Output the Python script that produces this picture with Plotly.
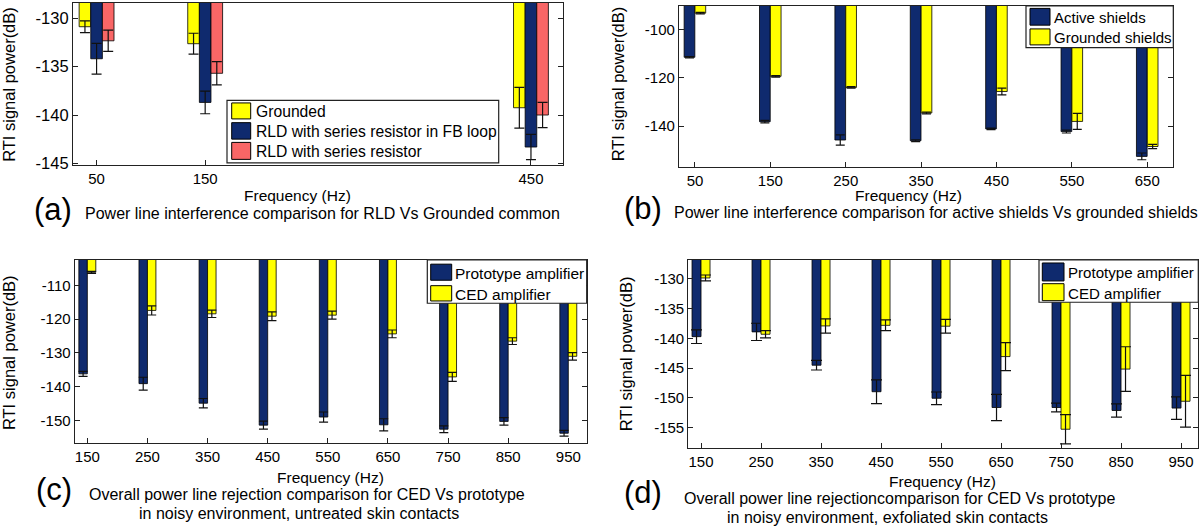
import plotly.graph_objects as go

# ---------------- data ----------------
freq_a = [50, 150, 450]
grounded_a = [-130.9, -132.65, -139.25]
grounded_a_err = [0.6, 1.08, 2.1]
rld_fb_a = [-134.2, -138.7, -143.3]
rld_fb_a_err = [1.58, 1.17, 1.3]
rld_a = [-132.35, -135.7, -140.0]
rld_a_err = [1.1, 1.2, 1.3]

freq_b = [50, 150, 250, 350, 450, 550, 650]
active_b = [-111.5, -138.2, -145.8, -146.1, -141.2, -142.3, -152.6]
active_b_err = [0.3, 0.5, 2.1, 0.4, 0.3, 0.6, 1.4]
grounded_b = [-93.2, -119.4, -124.0, -134.6, -125.7, -138.1, -148.5]
grounded_b_err = [0.3, 0.3, 0.3, 0.4, 1.4, 3.3, 0.9]

freq_cd = [150, 250, 350, 450, 550, 650, 750, 850, 950]
proto_c = [-136.2, -139.1, -144.9, -151.4, -149.0, -151.3, -152.6, -150.3, -153.8]
proto_c_err = [0.75, 1.9, 1.4, 1.2, 1.5, 1.8, 1.0, 1.1, 0.85]
ced_c = [-106.1, -117.4, -118.4, -119.1, -118.8, -124.35, -137.1, -126.5, -131.0]
ced_c_err = [0.3, 1.35, 1.1, 1.3, 1.2, 1.15, 1.35, 1.0, 1.1]

proto_d = [-139.7, -138.9, -144.5, -148.95, -150.05, -151.6, -151.6, -152.1, -151.7]
proto_d_err = [1.15, 1.45, 0.8, 2.0, 1.05, 2.2, 0.75, 1.1, 1.9]
ced_d = [-129.85, -139.3, -137.9, -137.8, -137.95, -143.05, -155.25, -145.15, -150.55]
ced_d_err = [0.5, 0.6, 1.2, 0.9, 1.15, 2.35, 2.45, 3.75, 4.35]

ytick_a = [-130, -135, -140, -145]
ytick_b = [-100, -120, -140]
ytick_c = [-110, -120, -130, -140, -150]
ytick_d = [-130, -135, -140, -145, -150, -155]

names_a = ["Grounded", "RLD with series resistor in FB loop", "RLD with series resistor"]
names_b = ["Active shields", "Grounded shields"]
names_cd = ["Prototype amplifier", "CED amplifier"]

y_title = "RTI signal power(dB)"
x_title = "Frequency (Hz)"
captions = {
    "a": ["Power line interference comparison for RLD Vs Grounded common"],
    "b": ["Power line interference comparison for active shields Vs grounded shields"],
    "c": ["Overall power line rejection comparison for CED Vs prototype",
          "in noisy environment, untreated skin contacts"],
    "d": ["Overall power line rejectioncomparison for CED Vs prototype",
          "in noisy environment, exfoliated skin contacts"],
}

# ---------------- style ----------------
W, H = 1200, 530
FONT = "Liberation Sans, Arial, Helvetica, sans-serif"
YELLOW = "#FFFF00"
NAVY = "#0F2A6E"
SALMON = "#F96666"
AXC = "#222222"


def px(x):
    return x / W


def py(y):
    return 1 - y / H


fig = go.Figure()

panels = [
    dict(k="a", ax="", xd=(73, 563), yd=(3, 167), xr=[28.3, 479.5], yr=[-145.13, -128.45],
         xt=freq_a, yt=ytick_a, w=10.7, cap=5, yfs=16.5,
         series=[(names_a[0], YELLOW, grounded_a, grounded_a_err, -16.05),
                 (names_a[1], NAVY, rld_fb_a, rld_fb_a_err, -5.35),
                 (names_a[2], SALMON, rld_a, rld_a_err, 5.35)]),
    dict(k="b", ax="2", xd=(679, 1173.3), yd=(6, 169), xr=[28.8, 684.5], yr=[-156.9, -90.2],
         xt=freq_b, yt=ytick_b, w=14.2, cap=4.5, yfs=15,
         series=[(names_b[0], NAVY, active_b, active_b_err, -14.4),
                 (names_b[1], YELLOW, grounded_b, grounded_b_err, 0.0)]),
    dict(k="c", ax="3", xd=(74.7, 586.7), yd=(263.3, 449.3), xr=[129, 980.6], yr=[-156.8, -102.4],
         xt=freq_cd, yt=ytick_c, w=14.1, cap=4.5, yfs=15,
         series=[(names_cd[0], NAVY, proto_c, proto_c_err, -14.1),
                 (names_cd[1], YELLOW, ced_c, ced_c_err, 0.0)]),
    dict(k="d", ax="4", xd=(688.3, 1198.3), yd=(263.3, 454), xr=[128.8, 978.8], yr=[-158.4, -126.8],
         xt=freq_cd, yt=ytick_d, w=15.0, cap=5.5, yfs=15,
         series=[(names_cd[0], NAVY, proto_d, proto_d_err, -15.0),
                 (names_cd[1], YELLOW, ced_d, ced_d_err, 0.0)]),
]

layout = dict(
    width=W, height=H, autosize=False,
    margin=dict(l=0, r=0, t=0, b=0),
    paper_bgcolor="white", plot_bgcolor="white",
    barmode="overlay", showlegend=False,
    font=dict(family=FONT, size=15, color="black"),
)

for p in panels:
    xa = "x" + p["ax"]
    ya = "y" + p["ax"]
    for name, col, vals, err, off in p["series"]:
        fig.add_trace(go.Bar(
            x=p["xt"], y=vals, name=name, width=p["w"], offset=off,
            marker=dict(color=col, line=dict(color="black", width=0.8)),
            error_y=dict(type="data", array=err, visible=True, color="#111111",
                         thickness=1.2, width=p["cap"]),
            xaxis=xa, yaxis=ya, showlegend=False,
        ))
    layout["xaxis" + p["ax"]] = dict(
        domain=[px(p["xd"][0]), px(p["xd"][1])], range=p["xr"], anchor=ya,
        showgrid=False, zeroline=False, showline=True, mirror=True,
        linecolor=AXC, linewidth=1.2, ticks="inside", ticklen=5, tickcolor=AXC,
        tickmode="array", tickvals=p["xt"], ticktext=[str(v) for v in p["xt"]],
        tickfont=dict(size=15, family=FONT, color="black"),
    )
    layout["yaxis" + p["ax"]] = dict(
        domain=[py(p["yd"][1]), py(p["yd"][0])], range=p["yr"], anchor=xa,
        showgrid=False, zeroline=False, showline=True, mirror="ticks",
        linecolor=AXC, linewidth=1.2, ticks="inside", ticklen=5, tickcolor=AXC,
        tickmode="array", tickvals=p["yt"], ticktext=[str(v) for v in p["yt"]],
        tickfont=dict(size=p["yfs"], family=FONT, color="black"),
    )

fig.update_layout(**layout)

shapes = []
annots = []

# ---------------- manual legends ----------------
legends = [
    dict(box=(227, 498.7, 101.7, 165), sw=(231.7, 250.7),
         rows=[(104.3, 120.5), (124.3, 141), (144.3, 161.5)], tx=253.5, fs=15.7,
         items=[(names_a[0], YELLOW), (names_a[1], NAVY), (names_a[2], SALMON)]),
    dict(box=(1026, 1173.3, 6, 48.3), sw=(1030, 1050),
         rows=[(8.5, 25.5), (29.3, 45.5)], tx=1052, fs=15.0,
         items=[(names_b[0], NAVY), (names_b[1], YELLOW)]),
    dict(box=(427.3, 586.7, 263.3, 307.3), sw=(430.7, 451.7),
         rows=[(267.7, 284), (289.5, 305)], tx=453, fs=15.5,
         items=[(names_cd[0], NAVY), (names_cd[1], YELLOW)]),
    dict(box=(1039, 1198.3, 263.3, 306.3), sw=(1042.3, 1064),
         rows=[(266.5, 284.7), (287.5, 304.7)], tx=1065.5, fs=15.1,
         items=[(names_cd[0], NAVY), (names_cd[1], YELLOW)]),
]
for lg in legends:
    x0, x1, y0, y1 = lg["box"]
    shapes.append(dict(type="rect", xref="paper", yref="paper", layer="above",
                       x0=px(x0), x1=px(x1), y0=py(y1), y1=py(y0),
                       fillcolor="white", line=dict(color=AXC, width=1.2)))
    for (name, col), (ry0, ry1) in zip(lg["items"], lg["rows"]):
        shapes.append(dict(type="rect", xref="paper", yref="paper", layer="above",
                           x0=px(lg["sw"][0]), x1=px(lg["sw"][1]), y0=py(ry1), y1=py(ry0),
                           fillcolor=col, line=dict(color="black", width=1)))
        annots.append(dict(text=name, xref="paper", yref="paper", showarrow=False,
                           x=px(lg["tx"]), y=py((ry0 + ry1) / 2 + 1), xanchor="left", yanchor="middle",
                           font=dict(size=lg["fs"], family=FONT, color="black")))

# ---------------- texts ----------------
ytitle_pos = {"a": (9.5, 85.5), "b": (618, 85.5), "c": (8.3, 357.5), "d": (626, 358)}
xtitle_pos = {"a": (297.5, 198), "b": (908.3, 198), "c": (330, 484), "d": (942.5, 488)}
letter_pos = {"a": (53.3, 212.5), "b": (642.5, 211), "c": (54, 496.5), "d": (642.5, 499.5)}
caption_pos = {"a": [(83, 216.5)], "b": [(671.7, 215)],
               "c": [(87.3, 501), (136.7, 520)], "d": [(681.7, 505.5), (725, 524)]}

for k in "abcd":
    x, y = ytitle_pos[k]
    annots.append(dict(text=y_title, xref="paper", yref="paper", showarrow=False, textangle=-90,
                       x=px(x), y=py(y), xanchor="center", yanchor="middle",
                       font=dict(size=16.5, family=FONT, color="black")))
    x, y = xtitle_pos[k]
    annots.append(dict(text=x_title, xref="paper", yref="paper", showarrow=False,
                       x=px(x), y=py(y), xanchor="center", yanchor="middle",
                       font=dict(size=15.5, family=FONT, color="black")))
    x, y = letter_pos[k]
    annots.append(dict(text="(" + k + ")", xref="paper", yref="paper", showarrow=False,
                       x=px(x), y=py(y), xanchor="center", yanchor="middle",
                       font=dict(size=31, family=FONT, color="black")))
    for line, (x, y) in zip(captions[k], caption_pos[k]):
        annots.append(dict(text=line, xref="paper", yref="paper", showarrow=False,
                           x=px(x), y=py(y), xanchor="left", yanchor="middle",
                           font=dict(size=16, family=FONT, color="black")))

fig.update_layout(shapes=shapes, annotations=annots)
fig.write_html(
    "out.html",
    config={"displayModeBar": False},
    post_script="document.body.style.margin='0px';document.body.style.padding='0px';"
                "document.body.style.overflow='hidden';",
)
